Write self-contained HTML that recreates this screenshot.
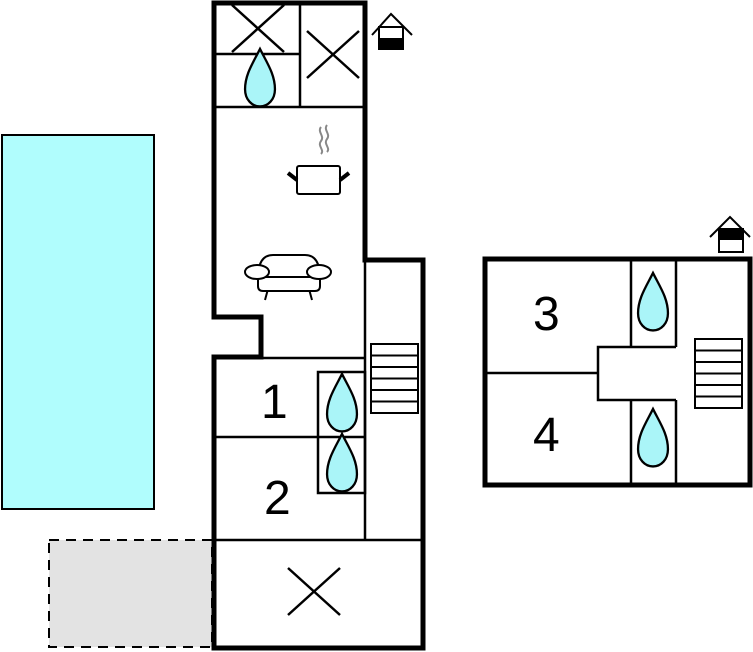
<!DOCTYPE html>
<html><head><meta charset="utf-8"><style>
html,body{margin:0;padding:0;background:#fff;}
svg{display:block;}
text{font-family:"Liberation Sans",sans-serif;font-size:48px;fill:#000;}
</style></head><body>
<svg width="753" height="652" viewBox="0 0 753 652" xmlns="http://www.w3.org/2000/svg">
<defs>
<path id="drop" d="M0,-27 C-6,-15 -13,-5 -13,8 C-13,17 -7,23 0,23 C7,23 13,17 13,8 C13,-5 6,-15 0,-27 Z" fill="#aaf5f8" stroke="#000" stroke-width="2" transform="scale(1.15)"/>
<g id="stairs" fill="none" stroke="#000" stroke-width="2">
<rect x="0" y="0" width="47" height="69"/>
<line x1="0" y1="11.5" x2="47" y2="11.5"/><line x1="0" y1="23" x2="47" y2="23"/>
<line x1="0" y1="34.5" x2="47" y2="34.5"/><line x1="0" y1="46" x2="47" y2="46"/>
<line x1="0" y1="57.5" x2="47" y2="57.5"/>
</g>
</defs>
<rect x="2" y="135" width="152" height="374" fill="#b0fdfd" stroke="#000" stroke-width="2"/>
<rect x="49" y="540" width="163" height="107" fill="#e3e3e3" stroke="#000" stroke-width="2" stroke-dasharray="10,7"/>
<g stroke="#000" stroke-width="2.5" fill="none">
<line x1="214" y1="107" x2="365" y2="107"/>
<line x1="300" y1="3" x2="300" y2="107"/>
<line x1="214" y1="54" x2="300" y2="54"/>
<line x1="232" y1="5" x2="284" y2="52"/><line x1="232" y1="52" x2="284" y2="5"/>
<line x1="307" y1="31" x2="359" y2="78"/><line x1="307" y1="78" x2="359" y2="31"/>
<line x1="261" y1="358" x2="365" y2="358"/>
<line x1="365" y1="260" x2="365" y2="540"/>
<line x1="214" y1="437" x2="318" y2="437"/>
<rect x="318" y="372" width="47" height="121"/>
<line x1="318" y1="437" x2="365" y2="437"/>
<line x1="214" y1="540" x2="423" y2="540"/>
<line x1="288" y1="568" x2="340" y2="615"/><line x1="288" y1="615" x2="340" y2="568"/>
</g>
<use href="#stairs" x="371" y="344"/>
<use href="#drop" x="260" y="80"/>
<use href="#drop" x="342" y="405"/>
<use href="#drop" x="342" y="465"/>
<g stroke="#000" stroke-width="2" fill="#fff">
<path d="M321,127 c-4,5 4,9 0,14 c-4,5 4,9 0,13" stroke="#888" fill="none"/>
<path d="M327,125 c-4,5 4,9 0,14 c-4,5 4,9 0,13" stroke="#888" fill="none"/>
<rect x="297" y="166" width="43" height="28" rx="2"/>
<line x1="288" y1="173" x2="297" y2="180" stroke-width="4"/>
<line x1="349" y1="173" x2="340" y2="180" stroke-width="4"/>
</g>
<g stroke="#000" stroke-width="2" fill="#fff">
<line x1="268" y1="289" x2="265" y2="300"/><line x1="309" y1="289" x2="312" y2="300"/>
<path d="M258,278 q0,-23 15,-23 h32 q15,0 15,23 v8 q0,5 -5,5 h-52 q-5,0 -5,-5 z"/>
<line x1="262" y1="277" x2="315" y2="277"/>
<ellipse cx="257" cy="272" rx="12" ry="7"/>
<ellipse cx="319" cy="272" rx="12" ry="7"/>
</g>
<path d="M214,3 H365 V260 H423 V648 H214 V357 H261 V317 H214 Z" fill="none" stroke="#000" stroke-width="5" stroke-linejoin="miter"/>
<text x="261" y="418">1</text>
<text x="264" y="514">2</text>
<g stroke="#000" stroke-width="2" fill="#fff">
<polyline points="372,35 391,14 412,35" fill="none"/>
<rect x="379" y="27" width="24" height="22"/>
<rect x="379" y="39" width="24" height="10" fill="#000"/>
</g>
<g stroke="#000" stroke-width="2.5" fill="none">
<line x1="631" y1="259" x2="631" y2="347"/>
<line x1="676" y1="259" x2="676" y2="347"/>
<line x1="631" y1="400" x2="631" y2="486"/>
<line x1="676" y1="400" x2="676" y2="486"/>
<polyline points="676,347 598,347 598,400 676,400"/>
<line x1="485" y1="373" x2="598" y2="373"/>
</g>
<use href="#stairs" x="695" y="339"/>
<use href="#drop" x="653" y="304"/>
<use href="#drop" x="653" y="440"/>
<rect x="485" y="259" width="265" height="226" fill="none" stroke="#000" stroke-width="5"/>
<text x="533" y="330">3</text>
<text x="533" y="451">4</text>
<g stroke="#000" stroke-width="2" fill="#fff">
<polyline points="710,237 730,217 750,237" fill="none"/>
<rect x="719" y="229" width="24" height="23"/>
<rect x="719" y="229" width="24" height="10" fill="#000"/>
</g>
</svg>
</body></html>
